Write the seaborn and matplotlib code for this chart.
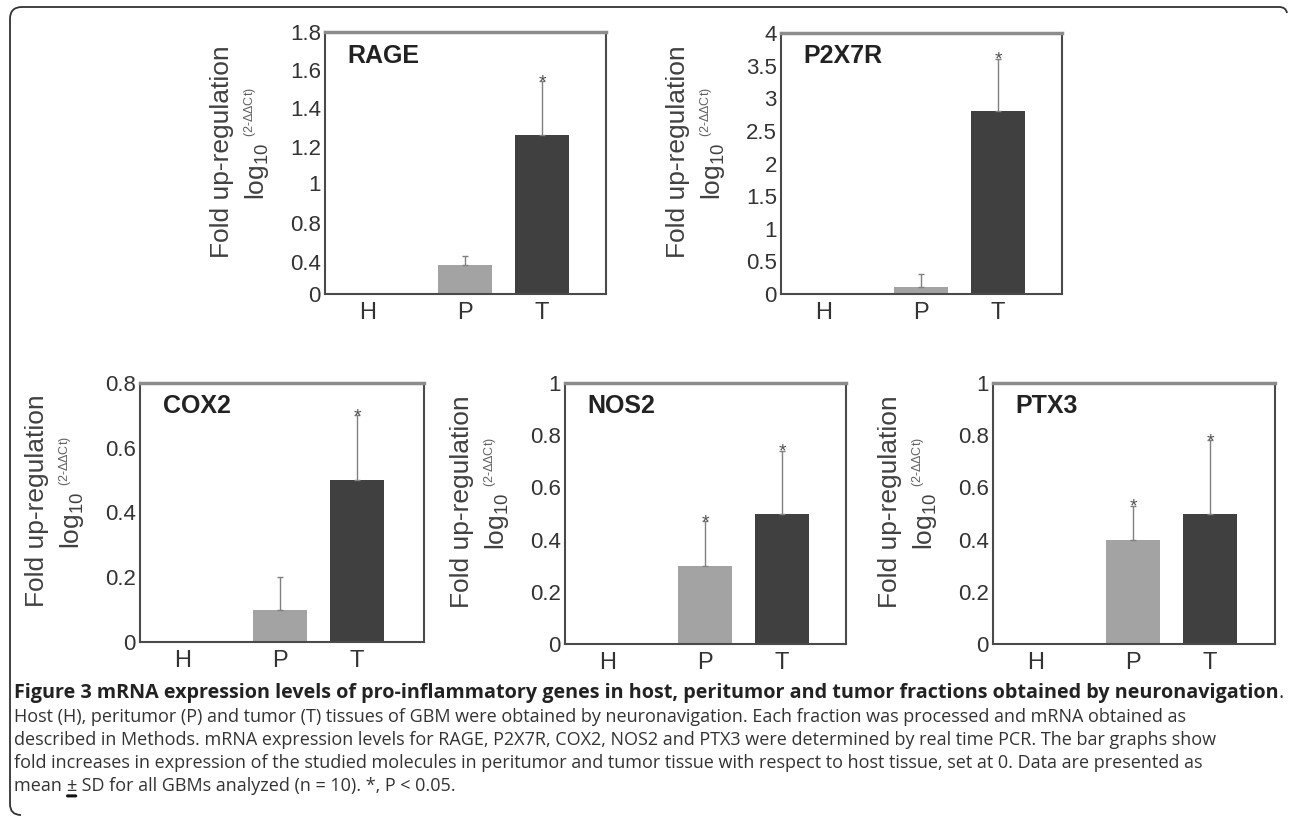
import numpy as np
import pandas as pd
import matplotlib
matplotlib.use("Agg")
import matplotlib.pyplot as plt
from matplotlib.path import Path
from matplotlib.patches import PathPatch
from matplotlib.ticker import FixedLocator, FuncFormatter
from matplotlib.text import Annotation
import seaborn as sns

# ---------------- data ----------------
tissues = ["H", "P", "T"]

rage_mean = [0.0, 0.36, 1.26]
rage_sd = [0.0, 0.10, 0.28]
rage_sig = [False, False, True]

p2x7r_mean = [0.0, 0.10, 2.80]
p2x7r_sd = [0.0, 0.20, 0.80]
p2x7r_sig = [False, False, True]

cox2_mean = [0.0, 0.10, 0.50]
cox2_sd = [0.0, 0.10, 0.20]
cox2_sig = [False, False, True]

nos2_mean = [0.0, 0.30, 0.50]
nos2_sd = [0.0, 0.17, 0.24]
nos2_sig = [False, True, True]

ptx3_mean = [0.0, 0.40, 0.50]
ptx3_sd = [0.0, 0.13, 0.28]
ptx3_sig = [False, True, True]

rage_ticks = [0, 0.4, 0.8, 1, 1.2, 1.4, 1.6, 1.8]
p2x7r_ticks = [0, 0.5, 1, 1.5, 2, 2.5, 3, 3.5, 4]
cox2_ticks = [0, 0.2, 0.4, 0.6, 0.8]
nos2_ticks = [0, 0.2, 0.4, 0.6, 0.8, 1]
ptx3_ticks = [0, 0.2, 0.4, 0.6, 0.8, 1]

# RAGE axis in the original has unevenly spaced tick labels (relative heights)
rage_tick_heights = [0, 32, 71, 111, 147, 186, 224, 262]

# ---------------- style ----------------
W, H = 1290, 818
sns.set_theme(style="white")
plt.rcParams["font.family"] = ["Liberation Sans", "DejaVu Sans"]
plt.rcParams["mathtext.fontset"] = "custom"
plt.rcParams["mathtext.rm"] = "Liberation Sans"
plt.rcParams["mathtext.it"] = "Liberation Sans:italic"

fig = plt.figure(figsize=(W / 100, H / 100), dpi=100)
fig.patch.set_facecolor("white")

BAR_COLORS = {"H": "#a3a3a3", "P": "#a3a3a3", "T": "#404040"}
TEXT_COL = "#333333"


def ax_rect(l, r, t, b):
    return [l / W, 1 - b / H, (r - l) / W, (b - t) / H]


def piecewise(xs, ys):
    xs = np.asarray(xs, float)
    ys = np.asarray(ys, float)
    s_lo = (ys[1] - ys[0]) / (xs[1] - xs[0])
    s_hi = (ys[-1] - ys[-2]) / (xs[-1] - xs[-2])

    def f(v):
        v = np.asarray(v, float)
        return np.where(v < xs[0], ys[0] + (v - xs[0]) * s_lo,
                        np.where(v > xs[-1], ys[-1] + (v - xs[-1]) * s_hi,
                                 np.interp(v, xs, ys)))
    return f


panels = [
    ("RAGE", rage_mean, rage_sd, rage_sig, rage_ticks, (325, 606, 32, 294)),
    ("P2X7R", p2x7r_mean, p2x7r_sd, p2x7r_sig, p2x7r_ticks, (781, 1062, 33, 294)),
    ("COX2", cox2_mean, cox2_sd, cox2_sig, cox2_ticks, (140, 424, 383, 642)),
    ("NOS2", nos2_mean, nos2_sd, nos2_sig, nos2_ticks, (565, 846, 383, 644)),
    ("PTX3", ptx3_mean, ptx3_sd, ptx3_sig, ptx3_ticks, (993, 1275, 383, 644)),
]

for name, means, sds, sigs, ticks, rect in panels:
    l, r, t, b = rect
    ax = fig.add_axes(ax_rect(l, r, t, b))
    df = pd.DataFrame({"tissue": tissues, "value": means})
    sns.barplot(data=df, x="tissue", y="value", hue="tissue", order=tissues,
                hue_order=tissues, palette=BAR_COLORS, legend=False,
                width=0.69, linewidth=0, saturation=1, ax=ax)

    if name == "RAGE":
        fwd = piecewise(rage_ticks, rage_tick_heights)
        inv = piecewise(rage_tick_heights, rage_ticks)
        ax.set_yscale("function", functions=(fwd, inv))

    ymax = ticks[-1]
    ax.set_ylim(0, ymax)

    # error bars (upper only) and significance stars
    for patch, m, sd, sig in zip(ax.patches, means, sds, sigs):
        xc = patch.get_x() + patch.get_width() / 2
        if sd > 0:
            ax.errorbar([xc], [m], yerr=[[0], [sd]], fmt="none",
                        ecolor="#808080", elinewidth=1.0, capsize=2.5,
                        capthick=1.0, zorder=3)
        if sig:
            ax.annotate("*", xy=(xc, m + sd), xytext=(0, -7),
                        textcoords="offset points", ha="center", va="bottom",
                        fontsize=14, color="#505050", zorder=4)

    unit = 77.0
    width_units = (r - l) / unit
    left = 1 - 140.0 / unit
    ax.set_xlim(left, left + width_units)
    ax.xaxis.set_major_locator(FixedLocator([left + 43.0 / unit, 1, 2]))
    ax.set_xticklabels(tissues)
    ax.yaxis.set_major_locator(FixedLocator(ticks))
    ax.yaxis.set_major_formatter(FuncFormatter(lambda v, p: "%g" % v))
    ax.tick_params(axis="both", length=0, colors=TEXT_COL)
    ax.tick_params(axis="y", labelsize=16, pad=3)
    ax.tick_params(axis="x", labelsize=17, pad=6)
    ax.set_xlabel("")
    ax.set_ylabel("")

    for side in ["left", "bottom", "right"]:
        ax.spines[side].set_visible(True)
        ax.spines[side].set_color("#4a4a4a")
        ax.spines[side].set_linewidth(1.5)
    ax.spines["top"].set_visible(True)
    ax.spines["top"].set_color("#8c8c8c")
    ax.spines["top"].set_linewidth(2.5)

    # panel title
    ax.text(0.08, 0.91, name, transform=ax.transAxes, fontsize=18,
            fontweight="bold", color="#222222", ha="left", va="center")

    # y axis label (two lines)
    wpx = r - l
    ax.text(-103.0 / wpx, 0.545, "Fold up-regulation", transform=ax.transAxes,
            rotation=90, ha="center", va="center", rotation_mode="anchor",
            fontsize=19, color="#404040")
    t_log = ax.text(-68.0 / wpx, 0.47, r"log$_{10}$",
                    transform=ax.transAxes, rotation=90, ha="center", va="center",
                    rotation_mode="anchor", fontsize=19, color="#404040")
    sup = Annotation(r"(2-$\Delta\Delta$Ct)", xy=(0.5, 1), xycoords=t_log,
                     xytext=(-5, 4), textcoords="offset points",
                     rotation=90, ha="left", va="center", rotation_mode="anchor",
                     fontsize=9, color="#606060", annotation_clip=False)
    fig.add_artist(sup)

# ---------------- frame ----------------
verts = [(1287, 13), (1286, 7), (1279, 7),
         (22, 7),
         (10, 7), (10, 19),
         (10, 804),
         (10, 815), (21, 815)]
codes = [Path.MOVETO, Path.CURVE3, Path.CURVE3,
         Path.LINETO,
         Path.CURVE3, Path.CURVE3,
         Path.LINETO,
         Path.CURVE3, Path.CURVE3]
verts_fig = [(x / W, 1 - y / H) for x, y in verts]
frame = PathPatch(Path(verts_fig, codes), transform=fig.transFigure,
                  facecolor="none", edgecolor="#333333", linewidth=1.3)
fig.add_artist(frame)

# ---------------- caption ----------------
cap_font = ["Open Sans", "DejaVu Sans"]
bold_size = 14.2
cap_size = 13.0
x0 = 14 / W
t_bold = fig.text(x0, 1 - 693 / H,
                  "Figure 3 mRNA expression levels of pro-inflammatory genes in host, "
                  "peritumor and tumor fractions obtained by neuronavigation",
                  family=cap_font, fontsize=bold_size, fontweight="bold",
                  color="#222222", va="center", ha="left")
a_dot = Annotation(".", xy=(1, 0.5), xycoords=t_bold, va="center", ha="left",
                   family=cap_font, fontsize=bold_size, color="#333333")
fig.add_artist(a_dot)

lines = [
    "Host (H), peritumor (P) and tumor (T) tissues of GBM were obtained by neuronavigation. "
    "Each fraction was processed and mRNA obtained as",
    "described in Methods. mRNA expression levels for RAGE, P2X7R, COX2, NOS2 and PTX3 "
    "were determined by real time PCR. The bar graphs show",
    "fold increases in expression of the studied molecules in peritumor and tumor tissue "
    "with respect to host tissue, set at 0. Data are presented as",
]
ys = [717, 740, 763]
for s, y in zip(lines, ys):
    fig.text(x0, 1 - y / H, s, family=cap_font, fontsize=cap_size,
             color="#333333", va="center", ha="left")

t_mean = fig.text(x0, 1 - 786 / H, "mean ", family=cap_font, fontsize=cap_size,
                  color="#333333", va="center", ha="left")
a_pm = Annotation("\u00b1", xy=(1, 0.5), xycoords=t_mean, va="center", ha="left",
                  family=cap_font, fontsize=cap_size, color="#333333")
fig.add_artist(a_pm)
a_rest = Annotation(" SD for all GBMs analyzed (n = 10). *, P < 0.05.", xy=(1, 0.5),
                    xycoords=a_pm, va="center", ha="left",
                    family=cap_font, fontsize=cap_size, color="#333333")
fig.add_artist(a_rest)
a_ul = Annotation("", xy=(0.1, -0.05), xycoords=a_pm, xytext=(0.9, -0.05),
                  textcoords=a_pm,
                  arrowprops=dict(arrowstyle="-", lw=2.2, color="#111111",
                                  shrinkA=0, shrinkB=0))
fig.add_artist(a_ul)

fig.savefig("out.png", dpi=100, facecolor="white")
